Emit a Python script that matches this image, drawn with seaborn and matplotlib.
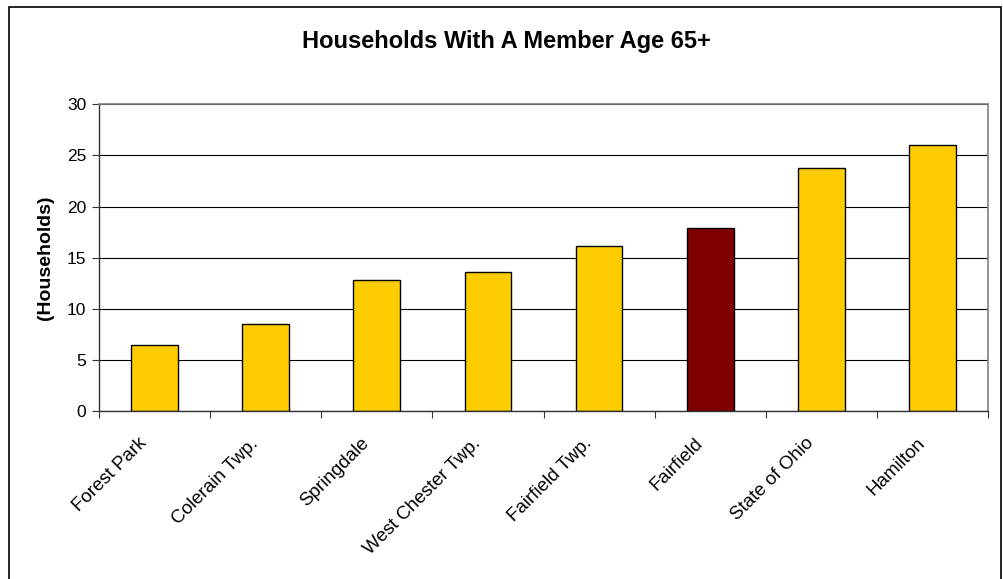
import matplotlib
matplotlib.use("Agg")
import matplotlib.pyplot as plt
import matplotlib.transforms as mtransforms
from matplotlib.patches import Rectangle
import pandas as pd
import seaborn as sns

places = ["Forest Park", "Colerain Twp.", "Springdale", "West Chester Twp.",
          "Fairfield Twp.", "Fairfield", "State of Ohio", "Hamilton"]
households = [6.5, 8.5, 12.8, 13.6, 16.1, 17.9, 23.8, 26.0]
highlight = "Fairfield"

df = pd.DataFrame({"place": places, "households": households})
colors = {p: ("#800000" if p == highlight else "#FFCC00") for p in places}

sns.set_theme(style="white", rc={"text.color": "black",
                                 "axes.labelcolor": "black",
                                 "xtick.color": "black",
                                 "ytick.color": "black"})
plt.rcParams["font.family"] = ["Liberation Sans", "DejaVu Sans"]

fig = plt.figure(figsize=(10.04, 5.79), dpi=100)
ax = fig.add_axes([0.0986, 0.290, 0.8855, 0.530])

sns.barplot(data=df, x="place", y="households", hue="place", palette=colors,
            legend=False, width=0.42, edgecolor="black", linewidth=1.0,
            saturation=1, ax=ax)

ax.set_ylim(0, 30)
ax.set_xlim(-0.5, len(places) - 0.5)
ax.set_yticks(range(0, 31, 5))
ax.yaxis.grid(True, color="black", linewidth=0.8)
ax.set_axisbelow(True)

# tick marks sit between the categories, labels at the bar centres
ax.set_xticks([i - 0.5 for i in range(len(places) + 1)], minor=True)
ax.tick_params(axis="x", which="major", length=0, pad=21.5)
ax.tick_params(axis="x", which="minor", length=5, width=0.8, color="#333333",
               direction="out", bottom=True)
ax.tick_params(axis="y", length=5, width=0.8, color="#333333", left=True,
               direction="out", labelsize=12.5, pad=4)
shift = mtransforms.ScaledTranslation(-10 / 100, 0, fig.dpi_scale_trans)
for lab in ax.get_xticklabels():
    lab.set_rotation(45)
    lab.set_ha("right")
    lab.set_va("center")
    lab.set_rotation_mode("anchor")
    lab.set_fontsize(13.5)
    lab.set_transform(lab.get_transform() + shift)

for side in ["top", "right"]:
    ax.spines[side].set_visible(True)
    ax.spines[side].set_color("#808080")
    ax.spines[side].set_linewidth(1.2)
for side in ["left", "bottom"]:
    ax.spines[side].set_color("#333333")
    ax.spines[side].set_linewidth(1.0)

ax.set_xlabel("")
ax.set_ylabel("(Households)", fontsize=14, fontweight="bold", labelpad=9)
fig.text(0.504, 1 - 48 / 579, "Households With A Member Age 65+", ha="center",
         va="baseline", fontsize=17, fontweight="bold")

fig.add_artist(Rectangle((9 / 1004, -0.1), (1001 - 9) / 1004, 1 - 7 / 579 + 0.1,
                         transform=fig.transFigure, fill=False,
                         edgecolor="black", linewidth=1.2))

fig.savefig("out.png", dpi=100, facecolor="white")
